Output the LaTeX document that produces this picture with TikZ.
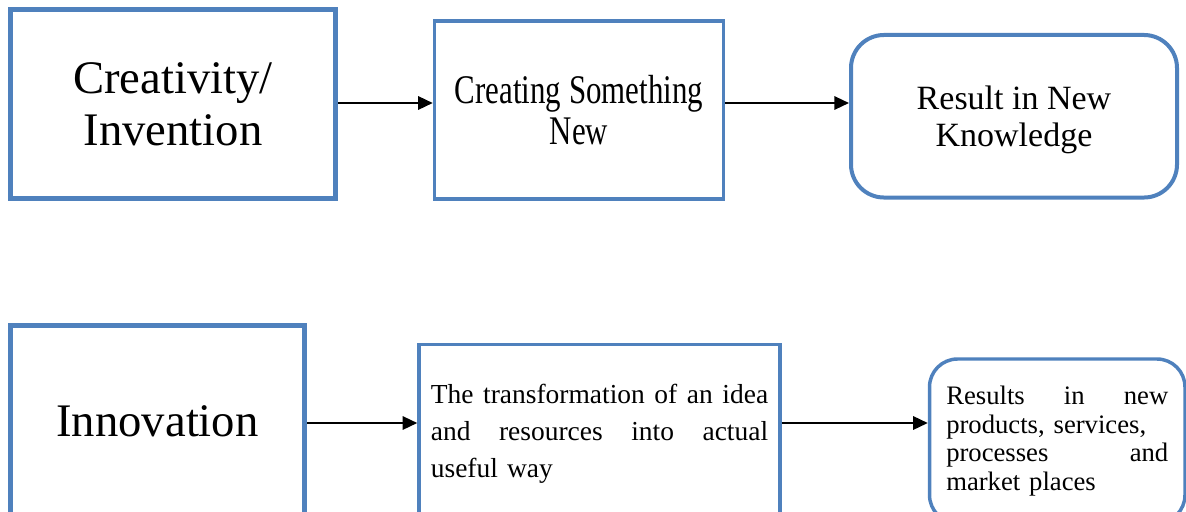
\documentclass[tikz,border=0pt]{standalone}
\usepackage{fontspec}
\setmainfont{Liberation Serif}
\newfontfamily\narrowserif[FakeStretch=0.76]{Liberation Serif}
\usetikzlibrary{arrows.meta}
\definecolor{boxblue}{RGB}{79,129,189}

\begin{document}
\begin{tikzpicture}[x=0.75pt,y=0.75pt,yscale=-1,xscale=1,
  box/.style={draw=boxblue, inner sep=0pt, align=center},
  arr/.style={-{Triangle[length=11pt,width=10pt]}, line width=1.7pt}]
\useasboundingbox (0,0) rectangle (1186,511);
\clip (0,0) rectangle (1186,511);

%Shape: Rectangle [id:creativity]
\node [box, line width=3.75pt, minimum width=243.75pt, minimum height=141.75pt,
  font=\fontsize{35}{39}\selectfont] (creat) at (173,104) {Creativity/\\Invention};
%Shape: Rectangle [id:something]
\node [box, line width=2.6pt, minimum width=216.75pt, minimum height=133.5pt,
  font=\narrowserif\fontsize{30.5}{30.75}\selectfont] (newthing) at (579,110) {Creating Something\\New};
%Rounded Rect [id:knowledge]
\node [box, line width=3pt, rounded corners=24.75pt, minimum width=244.5pt, minimum height=121.9pt,
  text height=46pt, text depth=0pt,
  font=\fontsize{25.5}{27.75}\selectfont] (knowl) at (1014,116.25) {Result in New\\Knowledge};

%Shape: Rectangle [id:innovation]
\node [box, line width=3.75pt, minimum width=220.5pt, minimum height=143.25pt,
  font=\fontsize{35}{39}\selectfont] (innov) at (157.5,421) {Innovation};
%Shape: Rectangle [id:transformation]
\node [box, line width=2.6pt, minimum width=270.75pt, minimum height=133.5pt,
  text width=253pt, align=left, font=\fontsize{20.6}{27.75}\selectfont] (transf) at (599.5,433.5)
  {The \hfill transformation \hfill of \hfill an \hfill idea\\
   and \hfill resources \hfill into \hfill actual\\
   useful way};
%Rounded Rect [id:results]
\node [box, line width=2.6pt, rounded corners=21pt, minimum width=191.6pt, minimum height=123pt,
  text width=166.5pt, align=left, font=\fontsize{20}{21.6}\selectfont] (results) at (1057.25,441)
  {Results \hfill in \hfill new\\
   products, services,\\
   processes \hfill and\\
   market places};

% Arrow rows
\coordinate (toprow) at (0,103);
\coordinate (lowrow) at (0,423);

%Straight Lines
\draw [arr] (creat.east |- toprow) -- (newthing.west |- toprow);
\draw [arr] (newthing.east |- toprow) -- (knowl.west |- toprow);
\draw [arr] (innov.east |- lowrow) -- (transf.west |- lowrow);
\draw [arr] (transf.east |- lowrow) -- (results.west |- lowrow);

\end{tikzpicture}
\end{document}
